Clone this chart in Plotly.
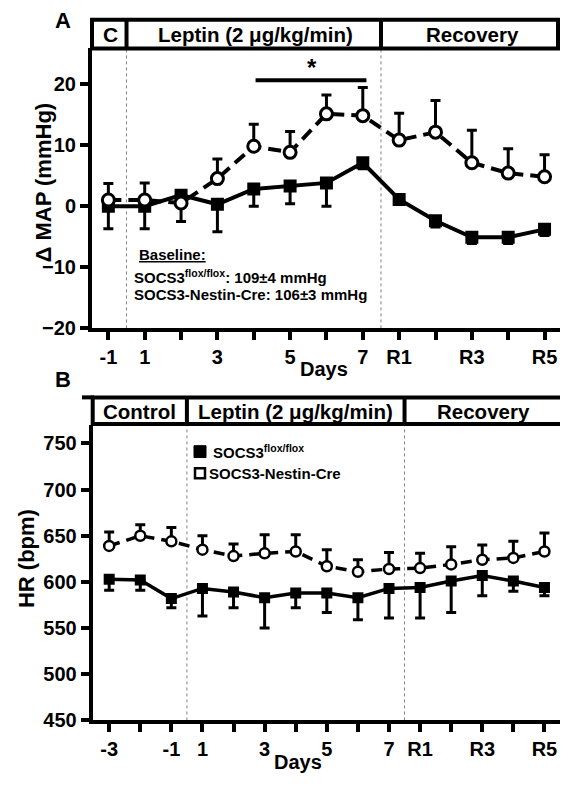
import plotly.graph_objects as go

# The page body adds an 8px margin on every side; size the figure so the page is exactly 568x790.
OFF = 8
W, H = 568 - 2 * OFF, 790 - 2 * OFF

# ---------------- data ----------------
# Panel A: change in MAP (mmHg)
a_days = ["-1", "1", "2", "3", "4", "5", "6", "7", "R1", "R2", "R3", "R4", "R5"]
a_ticktext = ["-1", "1", "", "3", "", "5", "", "7", "R1", "", "R3", "", "R5"]
a_flox = [0, 0, 1.8, 0.3, 2.8, 3.3, 3.8, 7.1, 1.1, -2.4, -5.1, -5.1, -3.8]
a_flox_err = [3.7, 3.7, 4.3, 4.5, 2.8, 2.9, 3.8, 1.0, 0.8, 1.0, 1.0, 1.0, 1.0]
a_cre = [1.0, 1.0, 0.5, 4.5, 9.8, 8.8, 15.1, 14.8, 10.8, 12.1, 7.1, 5.4, 4.8]
a_cre_err = [2.7, 2.8, 1.5, 3.2, 3.6, 3.4, 3.1, 4.6, 4.4, 5.2, 5.3, 4.0, 3.6]

# Panel B: heart rate (bpm)
b_days = ["-3", "-2", "-1", "1", "2", "3", "4", "5", "6", "7", "R1", "R2", "R3", "R4", "R5"]
b_ticktext = ["-3", "", "-1", "1", "", "3", "", "5", "", "7", "R1", "", "R3", "", "R5"]
b_flox = [603, 602, 582, 593, 589, 583, 588, 588, 583, 593, 594, 601, 607, 601, 594]
b_flox_err = [12, 11, 10, 30, 17, 33, 16, 21, 24, 32, 33, 34, 22, 11, 9]
b_cre = [639, 650, 644, 635, 628, 631, 633, 617, 611, 614, 615, 619, 624, 626, 633]
b_cre_err = [15, 12, 15, 15, 13, 20, 18, 18, 13, 18, 16, 19, 16, 18, 20]

FONT = "Liberation Sans, Arial, sans-serif"


def px(x):
    return (x - OFF) / W


def py(y):
    return 1 - (y - OFF) / H


ax_idx = list(range(len(a_days)))
bx_idx = list(range(len(b_days)))

fig = go.Figure()

# ---- Panel A traces ----
fig.add_trace(go.Scatter(
    x=ax_idx, y=a_flox, mode="lines+markers", xaxis="x", yaxis="y",
    line=dict(color="black", width=4),
    marker=dict(symbol="square", size=13, color="black"),
    error_y=dict(type="data", symmetric=False, array=[0] * len(a_flox),
                 arrayminus=a_flox_err, thickness=3, width=5, color="black"),
    showlegend=False))
fig.add_trace(go.Scatter(
    x=ax_idx, y=a_cre, mode="lines+markers", xaxis="x", yaxis="y",
    line=dict(color="black", width=4, dash="13px,7px"),
    marker=dict(symbol="circle", size=12, color="white",
                line=dict(color="black", width=3)),
    error_y=dict(type="data", symmetric=False, array=a_cre_err,
                 arrayminus=[0] * len(a_cre), thickness=3, width=5, color="black"),
    showlegend=False))

# ---- Panel B traces ----
fig.add_trace(go.Scatter(
    x=bx_idx, y=b_flox, mode="lines+markers", xaxis="x2", yaxis="y2",
    line=dict(color="black", width=3.5),
    marker=dict(symbol="square", size=11, color="black"),
    error_y=dict(type="data", symmetric=False, array=[0] * len(b_flox),
                 arrayminus=b_flox_err, thickness=3, width=5, color="black"),
    showlegend=False))
fig.add_trace(go.Scatter(
    x=bx_idx, y=b_cre, mode="lines+markers", xaxis="x2", yaxis="y2",
    line=dict(color="black", width=3.5, dash="11px,7px"),
    marker=dict(symbol="circle", size=10, color="white",
                line=dict(color="black", width=2.5)),
    error_y=dict(type="data", symmetric=False, array=b_cre_err,
                 arrayminus=[0] * len(b_cre), thickness=3, width=5, color="black"),
    showlegend=False))

tickfont = dict(family=FONT, size=20, color="black", weight="bold")
common_axis = dict(showgrid=False, zeroline=False, showline=True, linewidth=4,
                   linecolor="black", ticks="outside", ticklen=8, tickwidth=3.5,
                   tickcolor="black", tickfont=tickfont, fixedrange=True)

fig.update_layout(
    width=W, height=H,
    margin=dict(l=0, r=0, t=0, b=0),
    paper_bgcolor="white", plot_bgcolor="white",
    xaxis=dict(domain=[px(92), 1.0], range=[-0.45, 12.425], anchor="y",
               tickmode="array", tickvals=ax_idx, ticktext=a_ticktext, **common_axis),
    yaxis=dict(domain=[py(333), py(49)], range=[-20, 25.8], anchor="x",
               tickmode="array", tickvals=[-20, -10, 0, 10, 20], **common_axis),
    xaxis2=dict(domain=[px(92.7), 1.0], range=[-0.53, 14.50], anchor="y2",
                tickmode="array", tickvals=bx_idx, ticktext=b_ticktext, **common_axis),
    yaxis2=dict(domain=[py(730.7), py(431)], range=[450, 770], anchor="x2",
                tickmode="array", tickvals=[450, 500, 550, 600, 650, 700, 750], **common_axis),
)

shapes = []
dot = dict(color="#808080", width=1, dash="dot")
# dotted phase separators
for xv in (0.5, 7.5):
    shapes.append(dict(type="line", xref="x", yref="y domain", x0=xv, x1=xv, y0=0, y1=1,
                       line=dot, layer="below"))
for xv in (2.5, 9.5):
    shapes.append(dict(type="line", xref="x2", yref="y2 domain", x0=xv, x1=xv, y0=0, y1=1,
                       line=dot, layer="below"))

box = dict(color="black", width=4)
# header A
shapes.append(dict(type="rect", xref="paper", yref="paper", x0=px(92), x1=px(558),
                   y0=py(49), y1=py(20), line=box, fillcolor="rgba(0,0,0,0)"))
for xv in (0.5, 7.5):
    shapes.append(dict(type="line", xref="x", yref="paper", x0=xv, x1=xv,
                       y0=py(49), y1=py(20), line=box))
# header B
shapes.append(dict(type="rect", xref="paper", yref="paper", x0=px(92.7), x1=px(566),
                   y0=py(430), y1=py(403), line=box, fillcolor="rgba(0,0,0,0)"))
shapes.append(dict(type="line", xref="paper", yref="paper", x0=px(82), x1=px(94),
                   y0=py(403), y1=py(403), line=box))
for xv in (2.5, 9.5):
    shapes.append(dict(type="line", xref="x2", yref="paper", x0=xv, x1=xv,
                       y0=py(430), y1=py(403), line=box))

# significance bar
shapes.append(dict(type="line", xref="x", yref="y", x0=4.05, x1=7.1, y0=20.6, y1=20.6,
                   line=dict(color="black", width=4)))

# legend squares panel B
shapes.append(dict(type="rect", xref="paper", yref="paper", x0=px(194), x1=px(206),
                   y0=py(464), y1=py(452), line=dict(color="black", width=1),
                   fillcolor="black"))
shapes.append(dict(type="rect", xref="paper", yref="paper", x0=px(195), x1=px(205),
                   y0=py(485), y1=py(475), line=dict(color="black", width=2.5),
                   fillcolor="white"))

fig.update_layout(shapes=shapes)

ann = []


def text(x, y, s, size, xanchor="center", angle=0, bold=True):
    ann.append(dict(xref="paper", yref="paper", x=px(x), y=py(y), text=s,
                    showarrow=False, xanchor=xanchor, yanchor="middle",
                    textangle=angle,
                    font=dict(family=FONT, size=size, color="black",
                              weight="bold" if bold else "normal")))


# panel letters
text(63, 21, "A", 22)
text(63, 385, "B", 22)
# header labels A
text(110, 35, "C", 21)
text(255, 35, "Leptin (2 μg/kg/min)", 20.5)
text(472, 35, "Recovery", 20.5)
# header labels B
text(139, 417, "Control", 20.5)
text(295, 417, "Leptin (2 μg/kg/min)", 20.5)
text(483, 417, "Recovery", 20.5)
# axis titles
text(43, 185, "Δ MAP (mmHg)", 22, angle=-90)
text(26, 567, "HR (bpm)", 22, angle=-90)
text(324, 374, "Days", 20)
text(298, 773, "Days", 20)
# asterisk
ann.append(dict(xref="x", yref="y", x=5.6, y=22.7, text="*", showarrow=False,
                font=dict(family=FONT, size=24, color="black", weight="bold")))
# baseline text
text(137, 258, "<u>Baseline:</u>", 15, xanchor="left")
text(132, 280, "SOCS3<sup>flox/flox</sup>: 109±4 mmHg", 15, xanchor="left")
text(132, 299, "SOCS3-Nestin-Cre: 106±3 mmHg", 15, xanchor="left")
# legend B
text(211, 458, "SOCS3<sup>flox/flox</sup>", 15, xanchor="left")
text(207, 480, "SOCS3-Nestin-Cre", 15, xanchor="left")

fig.update_layout(annotations=ann)

fig.write_html("out.html")
